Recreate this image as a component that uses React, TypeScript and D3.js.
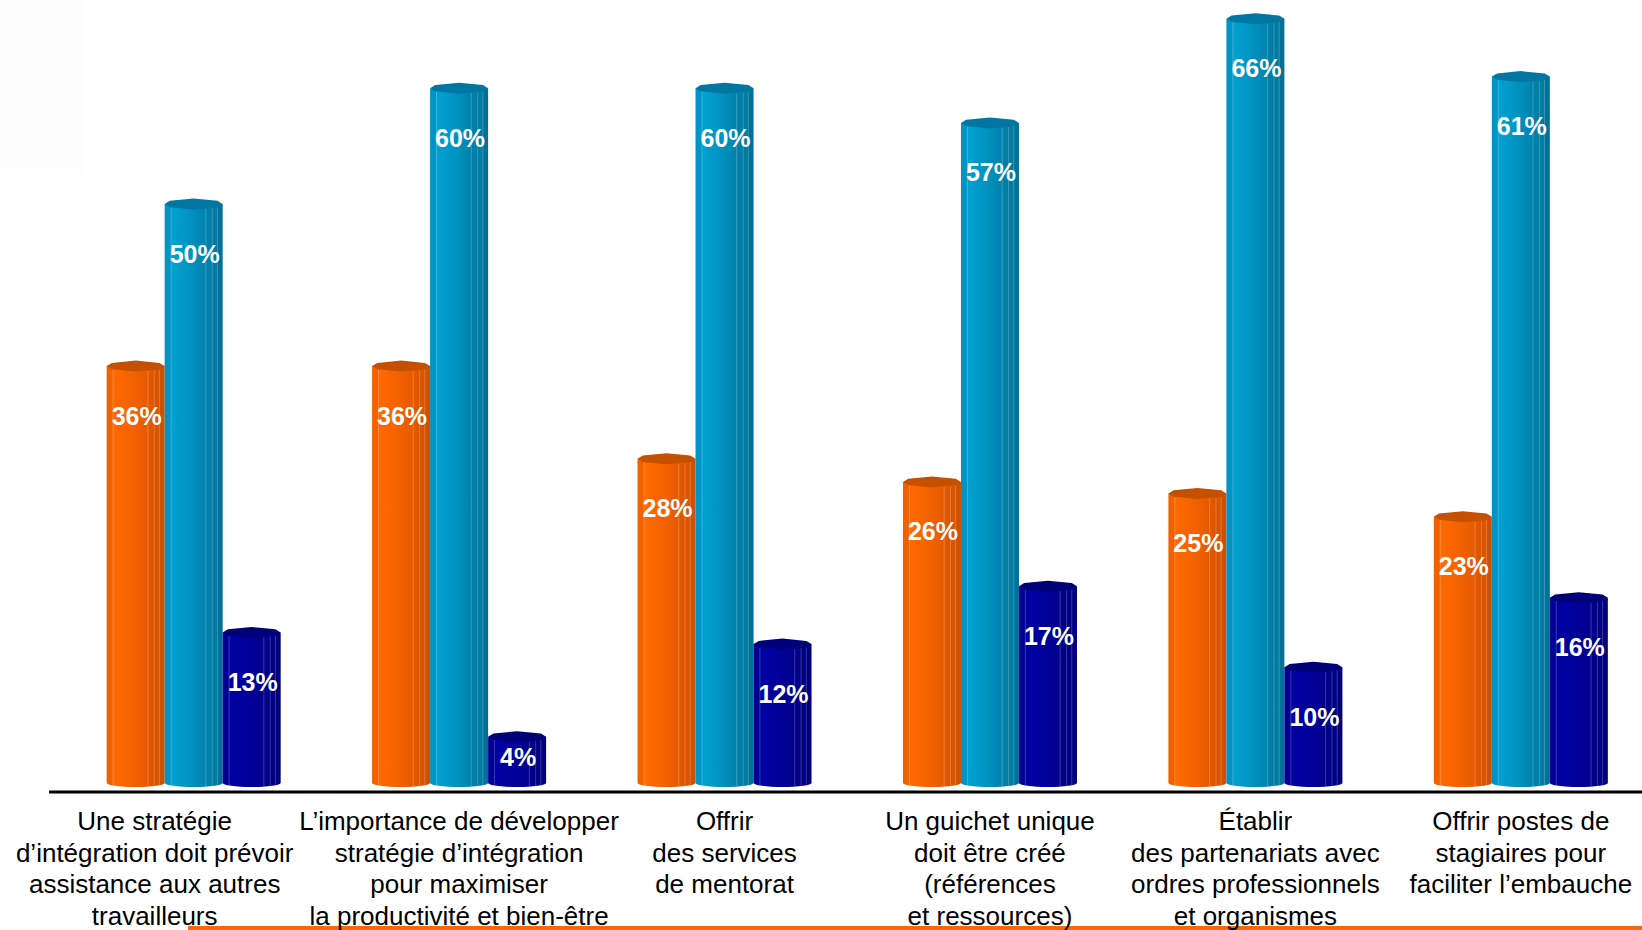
import React from "react";
import * as d3 from "d3";

// ---- data ----
const categoryLines: string[][] = [
  ["Une stratégie", "d’intégration doit prévoir", "assistance aux autres", "travailleurs"],
  ["L’importance de développer", "stratégie d’intégration", "pour maximiser", "la productivité et bien-être"],
  ["Offrir", "des services", "de mentorat"],
  ["Un guichet unique", "doit être créé", "(références", "et ressources)"],
  ["Établir", "des partenariats avec", "ordres professionnels", "et organismes"],
  ["Offrir postes de", "stagiaires pour", "faciliter l’embauche"],
];
const categories = categoryLines.map((l) => l.join(" "));
const seriesNames = ["Série 1", "Série 2", "Série 3"];
const series1Values = [36, 36, 28, 26, 25, 23];
const series2Values = [50, 60, 60, 57, 66, 61];
const series3Values = [13, 4, 12, 17, 10, 16];

// ---- styles ----
const W = 1642;
const H = 930;
const palettes = [
  { id: "or", stops: ["#F06200", "#FF6A00", "#F46200", "#E45A00", "#DA5500", "#CF5000"], cap: "#C45000" },
  { id: "bl", stops: ["#0094C4", "#00A2D2", "#0092C0", "#0082AC", "#007BA2", "#00729A"], cap: "#0076A0" },
  { id: "nv", stops: ["#000094", "#0000A4", "#00009A", "#00008C", "#000084", "#00007A"], cap: "#000078" },
];
const facetEdges = [0.11, 0.71, 0.82, 0.91];
const capRy = 5.5;
const botRy = 4;

export default function App() {
  const values = [series1Values, series2Values, series3Values];
  const x0 = d3.scaleBand<string>().domain(categories).range([61, 1653.5]).paddingInner(0.3444).paddingOuter(0.172);
  const x1 = d3.scaleBand<string>().domain(seriesNames).range([0, x0.bandwidth()]).padding(0);
  const y = d3.scaleLinear().domain([0, 66]).range([783, 783 - 66 * 11.58]);
  const bw = x1.bandwidth();

  const bars: any[] = [];
  categories.forEach((c, ci) => {
    seriesNames.forEach((s, si) => {
      const v = values[si][ci];
      const xl = (x0(c) as number) + (x1(s) as number);
      const xr = xl + bw;
      const cx = (xl + xr) / 2;
      const yt = y(v);
      const yb = y(0);
      const rx = bw / 2;
      const body = `M${xl},${yt} L${xl},${yb} A${rx},${botRy} 0 0 0 ${xr},${yb} L${xr},${yt} Z`;
      const capAngles = [0, 35, 90, 145, 180, 215, 270, 325];
      const cap = capAngles
        .map((a) => {
          const r = (a * Math.PI) / 180;
          return `${cx + rx * Math.cos(r)},${yt + capRy * Math.sin(r)}`;
        })
        .join(" ");
      const lines = facetEdges.map((f) => {
        const lx = xl + f * bw;
        const t = (lx - cx) / rx;
        const k = Math.sqrt(Math.max(0, 1 - t * t));
        return { lx, ya: yt + capRy * k, yb2: yb + botRy * k };
      });
      const topEdge = yt - capRy;
      const off = Math.min(55, (yb - topEdge) / 2);
      bars.push({ key: `${ci}-${si}`, si, v, cx, body, cap, lines, labelY: topEdge + off + 9 });
    });
  });

  return (
    <svg
      width={W}
      height={H}
      viewBox={`0 0 ${W} ${H}`}
      style={{ position: "fixed", left: 0, top: 0, background: "#fff" }}
      fontFamily="'Liberation Sans', Arial, sans-serif"
    >
      <defs>
        {palettes.map((p) => (
          <linearGradient key={p.id} id={`g-${p.id}`} x1="0" x2="1" y1="0" y2="0">
            <stop offset="0" stopColor={p.stops[0]} />
            <stop offset="0.11" stopColor={p.stops[0]} />
            <stop offset="0.11" stopColor={p.stops[1]} />
            <stop offset="0.45" stopColor={p.stops[2]} />
            <stop offset="0.71" stopColor={p.stops[3]} />
            <stop offset="0.71" stopColor={p.stops[3]} />
            <stop offset="0.82" stopColor={p.stops[4]} />
            <stop offset="0.91" stopColor={p.stops[4]} />
            <stop offset="0.91" stopColor={p.stops[5]} />
            <stop offset="1" stopColor={p.stops[5]} />
          </linearGradient>
        ))}
      </defs>
      <rect x={0} y={0} width={83} height={175} fill="#FDFDFD" />
      {bars.map((b) => (
        <g key={b.key}>
          <path d={b.body} fill={`url(#g-${palettes[b.si].id})`} />
          {b.lines.map((l: any, i: number) => (
            <line key={i} x1={l.lx} x2={l.lx} y1={l.ya} y2={l.yb2} stroke="#fff" strokeOpacity={0.22} strokeWidth={1} />
          ))}
          <polygon points={b.cap} fill={palettes[b.si].cap} />
        </g>
      ))}
      {bars.map((b) => (
        <text
          key={`t${b.key}`}
          x={b.cx + 1}
          y={b.labelY}
          textAnchor="middle"
          fill="#fff"
          fontWeight="bold"
          fontSize={25}
        >
          {`${b.v}%`}
        </text>
      ))}
      <line x1={49} x2={W} y1={792} y2={792} stroke="#000" strokeWidth={3} />
      <rect x={188} y={926} width={W - 188} height={4} fill="#FF6600" />
      {categoryLines.map((lines, ci) => {
        const cx = (x0(categories[ci]) as number) + x0.bandwidth() / 2 + (ci === 0 ? -39 : 0);
        return (
          <text key={`c${ci}`} textAnchor="middle" fontSize={26} fill="#000">
            {lines.map((ln, li) => (
              <tspan key={li} x={cx} y={830 + li * 31.5}>
                {ln}
              </tspan>
            ))}
          </text>
        );
      })}
    </svg>
  );
}
